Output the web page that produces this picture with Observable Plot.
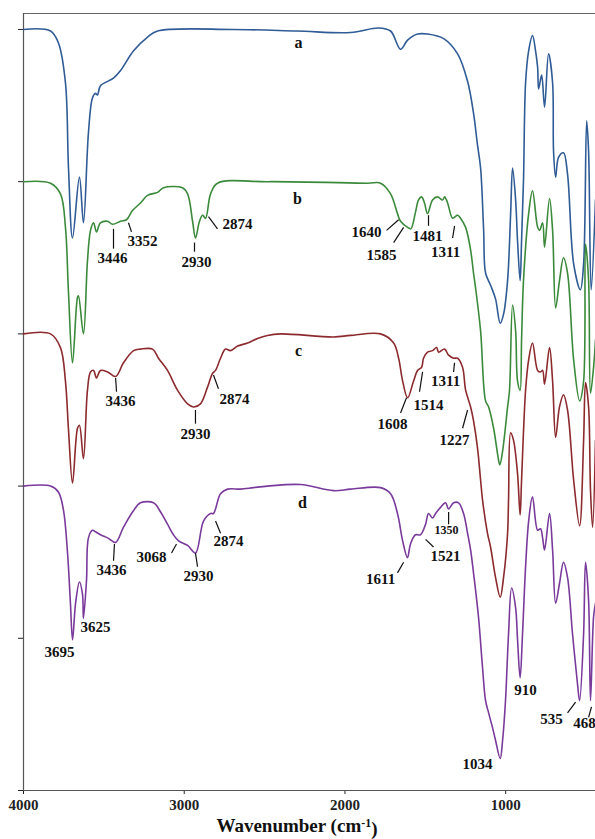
<!DOCTYPE html>
<html>
<head>
<meta charset="utf-8">
<script src="https://cdn.jsdelivr.net/npm/d3@7"></script>
<script src="https://cdn.jsdelivr.net/npm/@observablehq/plot@0.6"></script>
<style>
  html, body { margin: 0; padding: 0; background: white; }
  #chart svg { display: block; }
</style>
</head>
<body>
<div id="chart"></div>
<script>
// FTIR spectra, offset transmittance (arbitrary units), wavenumber in cm-1
const spectrumA = [[4000,5.00],[3832,4.99],[3782,4.91],[3739,4.65],[3720,4.09],[3695,3.63],[3652,4.03],[3627,3.73],[3596,4.32],[3571,4.55],[3552,4.58],[3540,4.57],[3521,4.63],[3440,4.68],[3396,4.73],[3315,4.86],[3228,4.95],[3166,4.99],[2700,5.00],[2300,4.99],[1965,4.98],[1791,5.01],[1716,4.99],[1654,4.87],[1610,4.93],[1548,4.97],[1486,4.97],[1386,4.94],[1299,4.84],[1237,4.66],[1200,4.45],[1175,4.24],[1156,4.09],[1137,3.68],[1125,3.40],[1094,3.32],[1063,3.23],[1034,3.07],[1013,3.13],[988,3.35],[969,3.79],[957,4.09],[938,3.88],[926,3.61],[910,3.35],[901,3.61],[889,4.01],[876,4.65],[857,4.86],[833,4.96],[814,4.86],[801,4.75],[795,4.61],[776,4.70],[758,4.49],[733,4.84],[708,4.65],[702,4.20],[689,4.03],[671,4.16],[640,4.19],[615,4.05],[577,3.46],[535,3.29],[515,3.46],[496,4.40],[484,4.20],[468,3.29],[441,3.88]];

const spectrumB = [[4000,4.00],[3832,3.99],[3770,3.92],[3739,3.70],[3720,3.27],[3695,2.81],[3664,3.24],[3658,3.25],[3627,3.00],[3602,3.48],[3583,3.68],[3564,3.73],[3546,3.67],[3521,3.73],[3477,3.74],[3446,3.72],[3396,3.74],[3359,3.75],[3322,3.81],[3272,3.86],[3228,3.91],[3166,3.93],[3129,3.96],[3011,3.96],[2979,3.92],[2948,3.74],[2930,3.63],[2905,3.74],[2886,3.78],[2867,3.76],[2836,3.92],[2793,3.99],[2482,4.00],[1859,3.99],[1778,3.99],[1716,3.92],[1673,3.79],[1654,3.74],[1610,3.70],[1590,3.69],[1561,3.80],[1542,3.88],[1523,3.90],[1505,3.86],[1486,3.79],[1455,3.88],[1424,3.90],[1393,3.88],[1380,3.90],[1361,3.86],[1330,3.76],[1299,3.78],[1281,3.76],[1249,3.70],[1218,3.55],[1200,3.40],[1187,3.30],[1156,3.02],[1125,2.56],[1106,2.52],[1075,2.38],[1044,2.17],[1036,2.14],[1019,2.23],[988,2.52],[976,2.63],[957,3.19],[938,3.02],[926,2.69],[910,2.63],[901,2.96],[889,3.35],[857,3.79],[833,3.94],[801,3.70],[789,3.68],[770,3.73],[758,3.57],[727,3.89],[708,3.68],[689,3.17],[665,3.35],[640,3.50],[615,3.40],[577,2.83],[540,2.56],[515,2.69],[503,3.59],[484,3.35],[472,2.61],[453,2.78],[441,2.96]];

const spectrumC = [[4000,3.00],[3832,3.00],[3770,2.91],[3739,2.69],[3720,2.37],[3695,2.02],[3664,2.38],[3652,2.40],[3627,2.18],[3602,2.63],[3583,2.75],[3564,2.76],[3546,2.71],[3521,2.76],[3477,2.75],[3427,2.72],[3378,2.81],[3315,2.89],[3272,2.90],[3197,2.90],[3160,2.84],[3104,2.76],[3042,2.63],[2979,2.54],[2942,2.52],[2899,2.54],[2855,2.65],[2824,2.74],[2805,2.76],[2774,2.84],[2743,2.90],[2712,2.89],[2668,2.92],[2606,2.94],[2544,2.97],[2482,2.99],[2401,3.00],[2071,2.98],[1965,2.99],[1778,3.00],[1697,2.94],[1666,2.84],[1641,2.69],[1610,2.58],[1573,2.69],[1548,2.76],[1523,2.78],[1511,2.84],[1486,2.88],[1455,2.89],[1430,2.91],[1417,2.88],[1380,2.90],[1355,2.86],[1324,2.84],[1299,2.84],[1268,2.78],[1249,2.63],[1218,2.52],[1200,2.43],[1175,2.25],[1156,2.04],[1144,1.91],[1113,1.69],[1094,1.60],[1063,1.40],[1034,1.27],[1013,1.40],[988,1.69],[982,1.91],[969,2.35],[951,2.30],[926,2.08],[910,1.81],[901,2.04],[876,2.63],[857,2.83],[833,2.94],[801,2.76],[783,2.75],[770,2.76],[758,2.67],[727,2.91],[708,2.69],[689,2.32],[665,2.52],[640,2.60],[615,2.50],[577,2.04],[540,1.74],[515,2.30],[503,2.68],[484,2.52],[472,1.97],[459,1.73],[441,2.30]];

const spectrumD = [[4000,2.00],[3832,2.00],[3782,1.96],[3751,1.84],[3726,1.56],[3708,1.23],[3695,0.99],[3676,1.23],[3652,1.37],[3633,1.29],[3627,1.13],[3608,1.38],[3596,1.66],[3571,1.71],[3552,1.70],[3521,1.68],[3477,1.66],[3427,1.63],[3378,1.73],[3315,1.84],[3272,1.89],[3191,1.89],[3147,1.83],[3104,1.75],[3067,1.68],[3035,1.64],[2979,1.61],[2930,1.56],[2880,1.77],[2836,1.82],[2818,1.82],[2774,1.95],[2730,1.98],[2650,1.98],[2569,1.99],[2482,2.00],[2276,2.01],[2071,1.97],[1965,1.98],[1778,1.99],[1716,1.95],[1673,1.82],[1641,1.64],[1611,1.53],[1592,1.62],[1561,1.68],[1530,1.68],[1498,1.75],[1480,1.82],[1455,1.79],[1436,1.82],[1405,1.86],[1374,1.89],[1355,1.85],[1324,1.89],[1293,1.89],[1262,1.82],[1237,1.69],[1218,1.58],[1200,1.43],[1169,1.14],[1144,0.81],[1125,0.59],[1106,0.51],[1081,0.41],[1063,0.33],[1034,0.21],[1019,0.33],[1001,0.59],[982,1.03],[963,1.33],[938,1.20],[926,0.99],[910,0.74],[895,1.03],[876,1.47],[857,1.77],[833,1.93],[801,1.71],[783,1.72],[770,1.66],[758,1.58],[727,1.82],[708,1.58],[689,1.23],[665,1.36],[640,1.50],[615,1.40],[584,1.03],[553,0.70],[540,0.59],[515,1.03],[503,1.50],[484,1.25],[472,0.59],[453,1.14],[441,1.23]];

const seriesNames = ["a", "b", "c", "d"];
const seriesColors = ["#2f5b96", "#3b8a3b", "#8c2a2e", "#7a3a9c"];
const seriesLabelX = [2289, 2295, 2289, 2264];
const seriesLabelY = [4.91, 3.89, 2.89, 1.89];

const xTicks = [4000, 3000, 2000, 1000];
const yTicks = [0, 1, 2, 3, 4, 5];

// peak annotations: text, text position, leader line (if any)
const peakText = ["3446","3352","2930","2874","1640","1585","1481","1311",
                  "3436","2930","2874","1608","1514","1311","1227",
                  "3436","3068","2930","2874","3625","3695","1611","1521","1350","1034","910","535","468"];
const peakTextX = [3446,3259,2923,2668,1866,1772,1486,1374,
                   3396,2930,2687,1704,1480,1374,1318,
                   3452,3203,2911,2724,3552,3776,1778,1374,1368,1175,876,714,509];
const peakTextY = [3.50,3.61,3.47,3.72,3.67,3.52,3.64,3.54,
                   2.56,2.34,2.57,2.41,2.53,2.69,2.30,
                   1.45,1.53,1.41,1.64,1.07,0.91,1.39,1.54,1.71,0.17,0.66,0.47,0.44];
const peakSize = peakText.map((t, i) => i === 23 ? 13 : 15);

const leaderX1 = [3440,3347,2936,2849,1741,1697,1480,1318, 3427,2930,2818,1617,1517,1318,1237, 3434,3048,2930,2805,1673,1498,1355,615,484];
const leaderY1 = [3.69,3.73,3.60,3.77,3.68,3.60,3.78,3.71, 2.71,2.50,2.73,2.58,2.75,2.81,2.50, 1.62,1.62,1.56,1.77,1.43,1.65,1.83,0.51,0.48];
const leaderX2 = [3440,3328,2936,2793,1666,1635,1480,1330, 3421,2930,2787,1654,1536,1324,1268, 3440,3079,2917,2774,1635,1449,1355,565,466];
const leaderY2 = [3.56,3.67,3.54,3.69,3.75,3.70,3.71,3.63, 2.62,2.41,2.64,2.48,2.62,2.75,2.38, 1.51,1.56,1.47,1.69,1.50,1.60,1.75,0.58,0.55];

// tables built from the arrays
const spectra = [spectrumA, spectrumB, spectrumC, spectrumD];
const lineData = spectra.flatMap((s, k) => s.map(([w, t]) => ({w, t, series: seriesNames[k]})));
const peaks = peakText.map((text, i) => ({text, x: peakTextX[i], y: peakTextY[i], size: peakSize[i]}));
const leaders = leaderX1.map((x1, i) => ({x1, y1: leaderY1[i], x2: leaderX2[i], y2: leaderY2[i]}));
const letters = seriesNames.map((n, i) => ({n, x: seriesLabelX[i], y: seriesLabelY[i]}));

const font = "'Liberation Serif', 'Times New Roman', serif";

const plot = Plot.plot({
  width: 595,
  height: 839,
  marginLeft: 23,
  marginRight: 0,
  marginTop: 13,
  marginBottom: 49,
  style: {fontFamily: font, fontSize: "15px", fontWeight: "bold", color: "#222", background: "white"},
  x: {domain: [4000, 441], ticks: xTicks, tickFormat: d => String(d), tickSize: 4, tickPadding: 5, label: null},
  y: {domain: [0, 5.105], ticks: yTicks, tickFormat: () => "", tickSize: 5, label: null},
  color: {domain: seriesNames, range: seriesColors},
  marks: [
    Plot.ruleY([0], {stroke: "#555", strokeWidth: 1.2}),
    Plot.ruleY([5.105], {stroke: "#666", strokeWidth: 1.2}),
    Plot.ruleX([4000], {stroke: "#555", strokeWidth: 1.2}),
    Plot.line(lineData, {x: "w", y: "t", z: "series", stroke: "series", strokeWidth: 1.6, curve: "catmull-rom"}),
    Plot.link(leaders, {x1: "x1", y1: "y1", x2: "x2", y2: "y2", stroke: "#111", strokeWidth: 1.2}),
    Plot.text(peaks.filter(d => d.size === 15), {x: "x", y: "y", text: "text", fill: "#111", fontSize: 15, fontWeight: "bold", fontFamily: font, lineAnchor: "middle"}),
    Plot.text(peaks.filter(d => d.size !== 15), {x: "x", y: "y", text: "text", fill: "#111", fontSize: 12, fontWeight: "bold", fontFamily: font, lineAnchor: "middle"}),
    Plot.text(letters, {x: "x", y: "y", text: "n", fill: "#111", fontSize: 16, fontWeight: "bold", fontFamily: font, lineAnchor: "middle"})
  ]
});

document.getElementById("chart").appendChild(plot);

// x-axis title with a real superscript
const svg = d3.select(plot);
const title = svg.append("text")
  .attr("x", 297)
  .attr("y", 832)
  .attr("text-anchor", "middle")
  .attr("fill", "#111")
  .style("font-family", font)
  .style("font-weight", "bold")
  .style("font-size", "19px");
title.append("tspan").text("Wavenumber (cm");
title.append("tspan").attr("dy", "-0.45em").style("font-size", "12px").text("-1");
title.append("tspan").attr("dy", "0.45em").text(")");
</script>
</body>
</html>
